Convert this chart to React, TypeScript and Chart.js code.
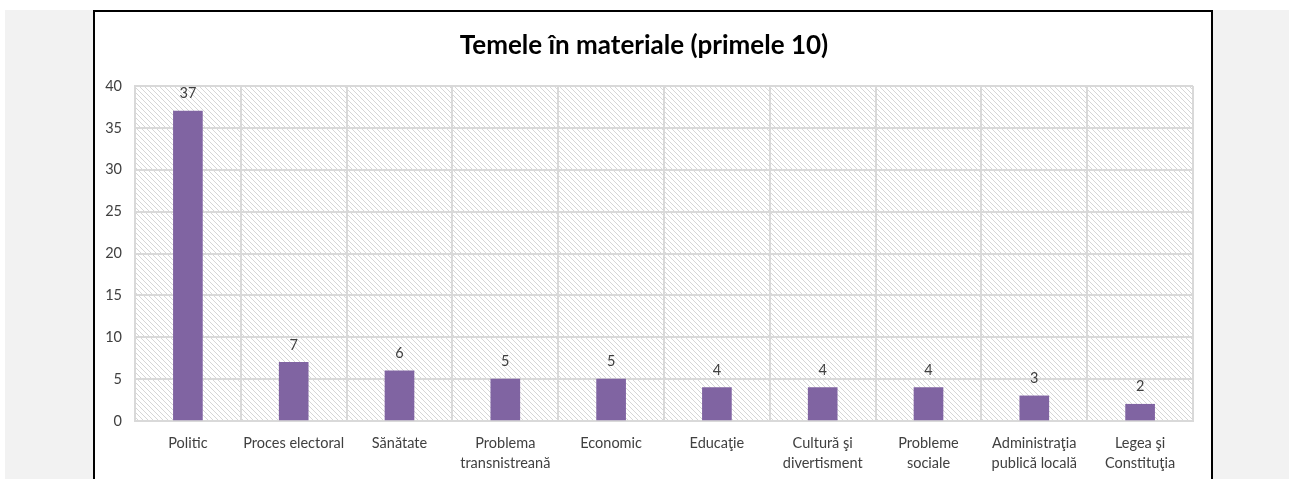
import React, { useEffect, useRef } from "react";
import { Chart, registerables } from "chart.js";

Chart.register(...registerables);

const titleText = "Temele în materiale (primele 10)";
const categories: string[][] = [
  ["Politic"],
  ["Proces electoral"],
  ["Sănătate"],
  ["Problema", "transnistreană"],
  ["Economic"],
  ["Educaţie"],
  ["Cultură şi", "divertisment"],
  ["Probleme", "sociale"],
  ["Administraţia", "publică locală"],
  ["Legea şi", "Constituţia"],
];
const values: number[] = [37, 7, 6, 5, 5, 4, 4, 4, 3, 2];
const yMin = 0;
const yMax = 40;
const yStep = 5;

const FONT = "Lato, 'Open Sans', sans-serif";
const TEXT = "#404040";
const BAR = "#8064A2";
const GRID = "#d9d9d9";

function makeHatch(ctx: CanvasRenderingContext2D) {
  const c = document.createElement("canvas");
  const n = 5;
  c.width = n;
  c.height = n;
  const g = c.getContext("2d")!;
  g.fillStyle = "#ffffff";
  g.fillRect(0, 0, n, n);
  g.fillStyle = "#d6d6d6";
  for (let y = 0; y < n; y++) {
    for (let x = 0; x < n; x++) {
      if ((x - y + n) % n === 0) g.fillRect(x, y, 1, 1);
    }
  }
  return ctx.createPattern(c, "repeat");
}

const hatchPlugin = {
  id: "hatchBg",
  beforeDraw(chart: any) {
    const { ctx, chartArea } = chart;
    if (!chartArea) return;
    ctx.save();
    const p = makeHatch(ctx);
    if (p) ctx.fillStyle = p;
    ctx.fillRect(chartArea.left, chartArea.top, chartArea.right - chartArea.left, chartArea.bottom - chartArea.top);
    ctx.restore();
  },
};

const labelPlugin = {
  id: "valueLabels",
  afterDatasetsDraw(chart: any) {
    const { ctx } = chart;
    const meta = chart.getDatasetMeta(0);
    ctx.save();
    ctx.font = `14.5px ${FONT}`;
    ctx.fillStyle = TEXT;
    ctx.textAlign = "center";
    ctx.textBaseline = "middle";
    meta.data.forEach((el: any, i: number) => {
      ctx.fillText(String(values[i]), el.x, el.y - 17.5);
    });
    ctx.restore();
  },
};

export default function App() {
  const ref = useRef<HTMLCanvasElement | null>(null);

  useEffect(() => {
    if (!ref.current) return;
    const chart = new Chart(ref.current, {
      type: "bar",
      data: {
        labels: categories,
        datasets: [
          {
            data: values,
            backgroundColor: BAR,
            borderWidth: 0,
            barThickness: 29,
          },
        ],
      },
      options: {
        animation: false,
        responsive: false,
        devicePixelRatio: 1,
        layout: { padding: { left: 0, right: 18, top: 0, bottom: 0 } },
        plugins: {
          legend: { display: false },
          tooltip: { enabled: false },
          title: {
            display: true,
            text: titleText,
            color: "#000000",
            font: { family: FONT, size: 26, weight: "bold", lineHeight: 1.2 },
            padding: { top: 18, bottom: 24.8 },
          },
        },
        scales: {
          x: {
            grid: { color: GRID, lineWidth: 2, drawTicks: false, offset: true },
            border: { color: GRID, width: 2 },
            ticks: {
              color: TEXT,
              font: { family: FONT, size: 14.5, lineHeight: 1.38 },
              padding: 12,
              maxRotation: 0,
              autoSkip: false,
            },
            afterFit(scale: any) {
              scale.height = 58;
            },
          },
          y: {
            min: yMin,
            max: yMax,
            grid: { color: GRID, lineWidth: 2, drawTicks: false },
            border: { color: GRID, width: 2 },
            ticks: {
              stepSize: yStep,
              color: TEXT,
              font: { family: FONT, size: 14.5 },
              padding: 13,
            },
            afterFit(scale: any) {
              scale.width = 40;
            },
          },
        },
      },
      plugins: [hatchPlugin, labelPlugin],
    } as any);
    return () => chart.destroy();
  }, []);

  return (
    <div style={{ position: "absolute", left: 0, top: 0, width: 1289, height: 479, background: "#ffffff", overflow: "hidden" }}>
      <div style={{ position: "absolute", left: 5, top: 10, width: 1284, height: 469, background: "#f2f2f2" }} />
      <div
        style={{
          position: "absolute",
          left: 93,
          top: 10,
          width: 1120,
          height: 480,
          boxSizing: "border-box",
          border: "2px solid #000000",
          background: "#ffffff",
        }}
      />
      <canvas ref={ref} width={1116} height={467} style={{ position: "absolute", left: 95, top: 12, width: 1116, height: 467 }} />
    </div>
  );
}
